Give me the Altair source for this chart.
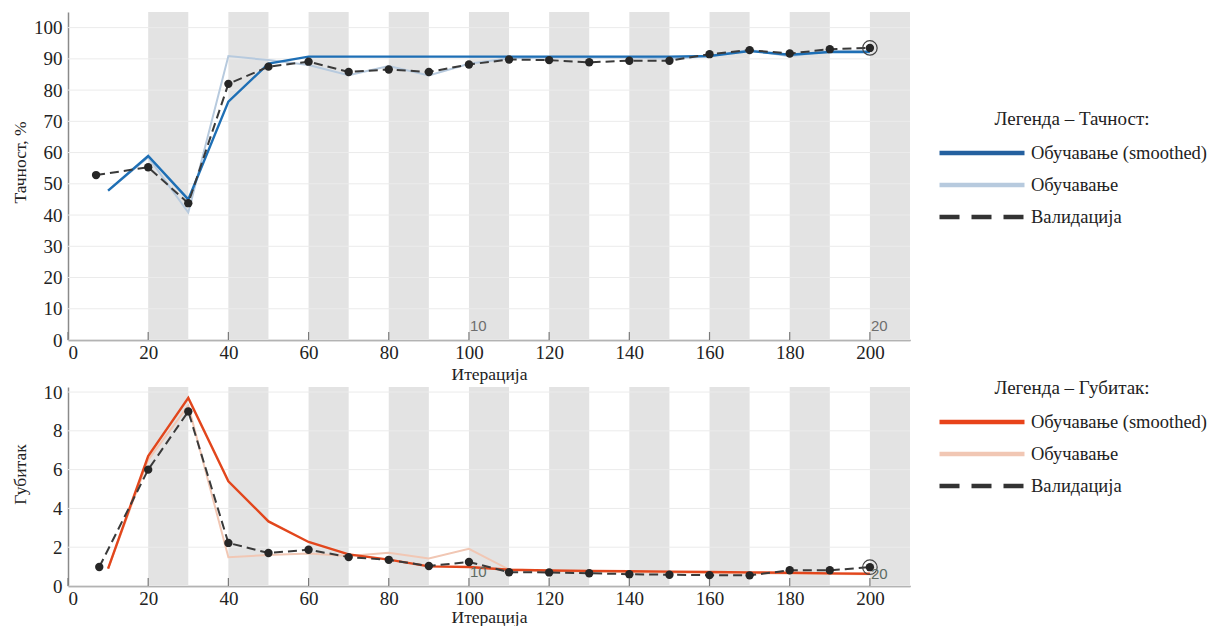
import altair as alt
import pandas as pd

# ---------------- data ----------------
band_start = [20, 40, 60, 80, 100, 120, 140, 160, 180, 200]
band_end = [30, 50, 70, 90, 110, 130, 150, 170, 190, 210]
x_ticks = [0, 20, 40, 60, 80, 100, 120, 140, 160, 180, 200]

acc_grid = [0, 10, 20, 30, 40, 50, 60, 70, 80, 90, 100]
loss_grid = [0, 2, 4, 6, 8, 10]

train_x = [10, 20, 30, 40, 50, 60, 70, 80, 90, 100, 110, 120, 130, 140, 150, 160, 170, 180, 190, 200]
acc_val_x = [7, 20, 30, 40, 50, 60, 70, 80, 90, 100, 110, 120, 130, 140, 150, 160, 170, 180, 190, 200]
acc_val = [52.8, 55.3, 43.8, 82.0, 87.5, 89.1, 85.8, 86.6, 85.8, 88.2, 89.8, 89.6, 88.9, 89.4, 89.4, 91.5, 92.8, 91.7, 93.1, 93.5]
acc_smooth = [47.8, 58.9, 45.0, 76.3, 88.5, 90.7, 90.7, 90.7, 90.7, 90.7, 90.7, 90.7, 90.7, 90.7, 90.7, 90.9, 92.5, 91.3, 92.2, 92.2]
acc_raw = [47.8, 58.5, 40.8, 90.9, 89.6, 88.0, 84.8, 87.7, 84.7, 88.4, 90.2, 90.4, 90.4, 90.4, 90.0, 90.8, 92.8, 90.8, 92.5, 92.6]

loss_val_x = [7.8, 20, 30, 40, 50, 60, 70, 80, 90, 100, 110, 120, 130, 140, 150, 160, 170, 180, 190, 200]
loss_val = [0.98, 6.0, 9.0, 2.22, 1.7, 1.87, 1.49, 1.35, 1.03, 1.24, 0.71, 0.70, 0.66, 0.61, 0.58, 0.56, 0.55, 0.81, 0.81, 0.97]
loss_smooth = [0.9, 6.7, 9.7, 5.4, 3.33, 2.27, 1.63, 1.36, 1.01, 0.98, 0.84, 0.80, 0.78, 0.76, 0.74, 0.72, 0.70, 0.68, 0.65, 0.63]
loss_raw = [0.9, 6.5, 9.3, 1.48, 1.6, 1.68, 1.55, 1.72, 1.42, 1.92, 0.85, 0.78, 0.75, 0.72, 0.70, 0.68, 0.66, 0.64, 0.62, 0.60]

series_names = ["Обучавање (smoothed)", "Обучавање", "Валидација"]

annot_x = [100, 200]
annot_text = ["10", "20"]

SERIF = "Liberation Serif, Times New Roman, Times, serif"
W = 842


def panel(height, ydom, grid_vals, val_x, val, smooth, raw, c_smooth, c_legend, c_raw,
          ytitle, ytitle_y, leg_title, leg_y, annot_y, annot_color, xpad):
    xs = alt.Scale(domain=[0, 210], nice=False, zero=False)
    ys = alt.Scale(domain=ydom, nice=False, zero=False)

    ax_x = alt.Axis(
        values=x_ticks, format="d", title="Итерација", ticks=False,
        domainColor="#7a7a7a", domainWidth=1.5, labelPadding=3,
        labelOverlap=False, titlePadding=xpad, grid=False)
    ax_y = alt.Axis(
        values=grid_vals, format="d", title=ytitle, ticks=False, grid=False,
        domainColor="#8a8a8a", domainWidth=1.5, labelPadding=6,
        labelOverlap=False,
        titleX=-39, titleY=ytitle_y, titleAngle=270, titleAlign="center",
        titleBaseline="bottom")

    def X(f):
        return alt.X(f, scale=xs, axis=ax_x, title="Итерација")

    def Y(f):
        return alt.Y(f, scale=ys, axis=ax_y, title=ytitle)

    bands = alt.Chart(pd.DataFrame({"b0": band_start, "b1": band_end})).mark_rect(
        color="#e3e3e3"
    ).encode(x=X("b0:Q"), x2="b1:Q")

    grid = alt.Chart(pd.DataFrame({"g": grid_vals})).mark_rule(
        color="#ebebeb", strokeWidth=1
    ).encode(y=Y("g:Q"))

    ticks = alt.Chart(pd.DataFrame({"t": x_ticks})).mark_rule(
        color="#7a7a7a", strokeWidth=1.2
    ).encode(x=X("t:Q"), y=alt.value(height), y2=alt.value(height - 8))

    raw_df = pd.DataFrame({"x": train_x, "y": raw})
    sm_df = pd.DataFrame({"x": train_x, "y": smooth})
    val_df = pd.DataFrame({"x": val_x, "y": val})

    raw_line = alt.Chart(raw_df).mark_line(color=c_raw, strokeWidth=2).encode(x=X("x:Q"), y=Y("y:Q"))
    sm_line = alt.Chart(sm_df).mark_line(color=c_smooth, strokeWidth=2.4).encode(x=X("x:Q"), y=Y("y:Q"))
    val_line = alt.Chart(val_df).mark_line(
        color="#3a3a3a", strokeWidth=2, strokeDash=[9, 5]
    ).encode(x=X("x:Q"), y=Y("y:Q"))
    val_pts = alt.Chart(val_df).mark_circle(color="#262626", opacity=1, size=70).encode(
        x=X("x:Q"), y=Y("y:Q"))
    ring = alt.Chart(val_df.tail(1)).mark_point(
        shape="circle", filled=False, color="#444444", size=210, strokeWidth=1.2, opacity=1
    ).encode(x=X("x:Q"), y=Y("y:Q"))

    annot = alt.Chart(pd.DataFrame({"x": annot_x, "y": annot_y, "t": annot_text})).mark_text(
        font="Liberation Sans", fontSize=15, color=annot_color, align="left",
        baseline="bottom", dx=1
    ).encode(x=X("x:Q"), y=Y("y:Q"), text="t:N")

    leg_df = pd.DataFrame({"x": [0, 0, 0], "y": [0, 0, 0], "s": series_names})
    legend_layer = alt.Chart(leg_df).transform_filter("false").mark_line().encode(
        x=X("x:Q"), y=Y("y:Q"),
        color=alt.Color("s:N", scale=alt.Scale(
            domain=series_names, range=[c_legend, c_raw, "#333333"]),
            legend=alt.Legend(
                title=leg_title, orient="none", legendX=869, legendY=leg_y,
                symbolType="stroke", symbolSize=7225, symbolStrokeWidth=4.5,
                labelFont=SERIF, labelFontSize=18.5, labelColor="#222222", labelOffset=4,
                titleFont=SERIF, titleFontSize=19, titleFontWeight="normal",
                titleColor="#222222", titleAnchor="middle", titlePadding=14,
                clipHeight=20, rowPadding=12, labelLimit=400)),
        strokeDash=alt.StrokeDash("s:N", scale=alt.Scale(
            domain=series_names, range=[[1, 0], [1, 0], [20, 12]])),
    )

    return alt.layer(
        legend_layer, bands, grid, ticks, raw_line, sm_line, val_line, val_pts, ring, annot
    ).properties(width=W, height=height)


top = panel(328, [0, 105], acc_grid, acc_val_x, acc_val, acc_smooth, acc_raw,
            "#1e6fb5", "#24609f", "#b7cade", "Тачност, %", 150, "Легенда – Тачност:", 98,
            [2.0, 2.0], "#6e6e6e", 3)
bottom = panel(199, [0, 10.26], loss_grid, loss_val_x, loss_val, loss_smooth, loss_raw,
               "#e2461c", "#e8431a", "#f1c7b4", "Губитак", 87, "Легенда – Губитак:", -8,
               [0.3, 0.2], "#5d6b63", 0)

chart = alt.vconcat(top, bottom, spacing=47, bounds="flush").resolve_scale(
    color="independent", strokeDash="independent"
).properties(
    padding={"left": 11, "top": 12, "right": 5, "bottom": 0},
    background="white",
).configure_view(stroke=None).configure_axis(
    labelFont=SERIF, labelFontSize=19, labelColor="#222222",
    titleFont=SERIF, titleFontSize=17.5, titleFontWeight="normal", titleColor="#222222",
)

chart.save("out.html", embed_options={"renderer": "svg", "actions": False})
